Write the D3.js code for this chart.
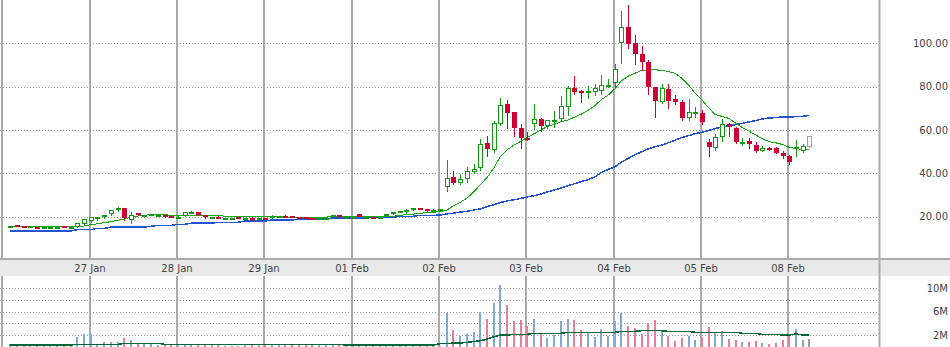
<!DOCTYPE html>
<html>
<head>
<meta charset="utf-8">
<script src="https://cdn.jsdelivr.net/npm/d3@7"></script>
<style>
  body { margin: 0; background: #fff; }
  svg { display: block; font-family: "DejaVu Sans", sans-serif; font-size: 10px; }
</style>
</head>
<body>
<svg id="chart"></svg>
<script>
// Trading days shown and how many 30-minute bars each one has
const days = ["26 Jan", "27 Jan", "28 Jan", "29 Jan", "01 Feb", "02 Feb", "03 Feb", "04 Feb", "05 Feb", "08 Feb"];
const barsPerDay = [12, 13, 13, 13, 13, 13, 13, 13, 13, 4];
const sessionBars = 13;

// OHLC per bar
const open = [
  15.5,15.9,15.8,15.4,15.1,14.9,15.0,15.2,15.4,15.1,
  15.3,16.4,18.1,19.6,19.6,21.0,23.0,24.1,18.4,21.5,
  20.6,20.7,20.9,20.8,20.3,19.9,20.4,22.0,22.1,20.6,
  19.6,20.0,19.0,19.1,19.7,19.2,19.5,18.8,19.3,19.4,
  19.9,20.4,20.1,19.8,19.6,19.5,19.1,19.5,19.6,20.5,
  19.6,19.3,21.0,19.4,19.6,19.9,20.3,21.0,22.3,21.9,
  22.9,24.0,23.5,22.9,22.6,33.5,38.4,35.3,37.2,40.4,
  42.3,53.9,50.6,62.6,71.8,68.1,61.0,56.4,62.6,65.0,
  61.8,64.4,64.9,70.7,79.4,78.1,77.9,77.6,78.1,80.6,
  81.5,100.3,107.4,100.0,94.9,91.2,79.7,73.0,78.8,74.1,
  72.7,65.4,67.9,67.7,54.5,51.8,56.6,62.7,60.7,54.3,
  54.9,53.0,50.3,51.6,51.8,49.5,47.9,51.5,50.4,52.2
];
const high = [
  15.7,15.9,15.8,15.5,15.2,15.1,15.2,15.3,15.5,15.3,
  17.0,19.0,20.0,19.9,20.6,23.0,24.3,24.1,21.9,21.6,
  20.8,21.2,21.0,20.9,20.4,20.1,22.1,22.4,22.2,20.6,
  20.0,20.1,19.5,19.5,19.8,19.5,19.6,19.4,19.4,20.5,
  20.3,20.5,20.2,19.9,19.7,19.5,19.5,19.6,20.7,20.6,
  20.2,20.1,21.3,20.0,19.6,20.3,21.3,22.3,22.6,23.3,
  24.1,24.1,23.6,23.3,23.4,46.0,41.0,39.5,43.0,44.2,
  55.6,57.0,64.2,74.6,73.8,68.2,62.6,59.2,72.0,65.6,
  64.8,68.7,75.7,80.3,84.9,78.3,80.3,81.2,85.4,83.5,
  90.3,114.9,117.7,103.8,98.8,92.3,80.0,81.2,81.2,76.1,
  73.8,74.3,70.4,69.2,55.6,58.1,64.9,63.0,61.2,56.1,
  56.4,54.3,52.6,52.2,52.2,50.4,48.2,55.3,53.3,57.2
];
const low = [
  15.3,15.6,15.6,15.3,14.5,14.6,15.0,15.2,15.2,15.0,
  15.3,16.3,17.6,18.6,19.5,20.9,22.5,18.4,17.1,20.5,
  20.4,20.6,20.5,19.9,19.7,19.2,20.3,21.9,20.6,19.5,
  19.5,19.3,19.0,19.0,19.3,19.2,18.3,18.6,18.8,19.4,
  19.8,20.0,19.7,19.2,19.4,19.1,19.1,19.4,19.6,19.9,
  19.5,19.2,19.8,19.3,19.2,19.8,20.2,21.0,22.1,21.8,
  22.9,23.3,22.6,22.8,22.5,31.9,34.9,35.2,36.1,40.3,
  41.3,47.9,49.9,62.4,61.0,57.3,51.5,55.3,60.3,59.5,
  60.7,61.5,64.8,66.9,76.4,73.0,74.6,76.1,76.4,79.9,
  80.0,91.0,97.7,90.3,87.7,76.4,66.1,72.3,70.3,72.0,
  64.6,64.6,66.1,62.7,48.1,50.7,55.0,57.2,53.8,53.0,
  51.8,49.7,50.3,50.7,49.2,47.2,44.2,48.1,49.9,52.2
];
const close = [
  15.5,15.7,15.6,15.4,14.8,15.0,15.2,15.3,15.3,15.3,
  16.9,18.7,19.9,19.8,20.5,23.0,23.8,19.2,20.8,20.6,
  20.7,21.1,20.9,20.5,19.9,19.9,21.9,22.2,20.7,20.4,
  19.9,19.4,19.5,19.4,19.4,19.5,19.3,19.2,18.9,20.4,
  20.1,20.1,19.8,19.7,19.5,19.2,19.5,19.5,20.6,20.0,
  20.1,20.0,19.8,19.9,19.3,20.0,21.2,22.2,22.4,23.2,
  24.0,23.6,23.3,23.0,23.3,37.6,35.6,37.2,41.0,41.9,
  53.3,51.3,63.0,71.5,67.9,61.0,56.4,55.7,64.9,61.8,
  64.6,64.6,71.0,79.3,77.5,77.9,78.0,79.2,80.7,80.8,
  88.0,107.4,99.5,94.9,91.5,80.0,73.5,79.2,73.5,73.0,
  65.6,68.1,68.1,63.8,52.2,56.6,62.7,61.2,54.3,54.5,
  53.5,50.4,51.5,51.5,49.5,48.1,45.3,52.0,52.6,57.2
];

// Volume per bar, millions
const volume = [
  0.45,0.3,0.3,0.3,0.45,0.27,0.27,0.27,0.27,0.3,
  1.7,2.1,2.2,0.45,0.86,0.86,0.74,1.55,1.14,0.57,
  0.4,0.4,0.3,0.4,0.4,0.4,0.4,0.3,0.4,0.4,
  0.4,0.4,0.2,0.2,0.2,0.4,0.4,0.4,0.4,0.4,
  0.4,0.4,0.4,0.4,0.4,0.4,0.4,0.4,0.4,0.4,
  0.3,0.2,0.4,0.2,0.2,0.2,0.3,0.4,0.3,0.3,
  0.4,0.2,0.2,0.2,0.2,5.7,2.86,1.83,2.1,2.46,
  6.0,4.75,7.44,10.6,7.15,4.4,4.58,3.6,4.75,2.23,
  1.55,2.0,4.4,4.75,4.58,2.86,2.46,1.71,3.03,1.83,
  4.4,5.7,3.6,3.26,2.17,3.98,4.5,2.69,1.83,0.98,
  1.43,1.83,1.08,1.65,3.37,2.4,2.69,1.31,1.14,0.74,
  0.8,0.98,0.57,0.4,0.57,1.14,2.17,3.03,1.14,1.31
];

// Moving averages as plotted
const maFast = [
  15.3,15.3,15.3,15.3,15.3,15.3,15.3,15.3,15.3,15.3,
  15.6,15.6,16.2,16.6,17.2,17.6,18.3,18.8,19.6,20.2,
  20.6,20.8,20.8,20.8,20.6,20.5,20.5,20.6,20.6,20.5,
  20.4,20.3,20.2,20.1,20.0,20.0,19.9,19.9,19.9,19.9,
  19.8,19.8,19.7,19.7,19.7,19.7,19.7,19.7,20.0,20.0,
  20.0,20.0,20.0,20.0,20.1,20.1,20.1,20.1,20.6,20.8,
  21.1,21.5,21.8,22.0,22.2,23.0,24.8,26.5,28.5,31.5,
  34.5,38.0,42.5,47.5,50.8,53.0,54.8,56.5,58.2,60.0,
  61.5,62.5,63.8,64.6,65.8,67.2,69.0,71.2,73.9,76.0,
  79.0,82.5,84.8,86.2,87.5,87.7,87.7,87.6,87.0,86.2,
  83.8,80.5,77.0,73.8,70.0,67.2,66.2,65.3,63.0,61.2,
  59.4,57.6,56.0,54.6,54.0,53.2,52.0,51.3,51.0,51.1
];
const maSlow = [
  13.3,13.3,13.3,13.3,13.3,13.3,13.3,13.3,13.3,13.3,
  13.9,13.9,13.9,14.5,14.5,15.1,15.1,15.1,15.1,15.1,
  15.1,15.5,15.9,15.9,15.9,16.4,16.4,16.9,16.9,16.9,
  16.9,17.3,17.3,17.3,17.3,17.9,17.9,17.9,17.9,18.4,
  18.4,18.4,18.4,18.8,18.8,18.8,18.8,18.8,19.3,19.3,
  19.3,19.3,19.3,19.3,19.6,19.6,19.6,19.6,20.1,20.1,
  20.1,20.5,20.5,20.5,20.7,21.2,21.5,22.0,22.4,23.0,
  23.5,24.5,25.5,26.4,27.2,27.7,28.4,29.0,29.6,30.4,
  31.3,32.2,33.1,34.2,35.1,36.1,37.0,38.3,40.2,41.7,
  43.0,45.0,46.8,48.5,50.0,51.2,52.2,53.0,54.0,55.2,
  56.5,57.4,58.2,58.9,59.8,60.6,61.3,61.9,62.5,63.0,
  63.7,64.3,65.0,65.5,65.7,66.0,66.0,66.1,66.3,66.7
];
const volMa = [
  0.29,0.29,0.29,0.29,0.29,0.29,0.29,0.29,0.29,0.29,
  0.4,0.4,0.4,0.4,0.4,0.4,0.4,0.57,0.57,0.57,
  0.57,0.57,0.57,0.4,0.4,0.4,0.4,0.4,0.4,0.4,
  0.4,0.4,0.4,0.4,0.4,0.4,0.4,0.4,0.4,0.4,
  0.4,0.4,0.4,0.4,0.4,0.4,0.4,0.4,0.4,0.4,
  0.27,0.27,0.27,0.27,0.27,0.27,0.27,0.27,0.27,0.27,
  0.27,0.27,0.27,0.27,0.5,0.57,0.6,0.62,0.74,0.9,
  1.0,1.3,1.7,2.0,2.0,2.1,2.1,2.1,2.3,2.3,
  2.3,2.3,2.3,2.46,2.46,2.46,2.46,2.46,2.46,2.46,
  2.46,2.63,2.63,2.63,2.74,2.74,2.74,2.74,2.63,2.63,
  2.63,2.63,2.46,2.46,2.46,2.46,2.46,2.46,2.46,2.29,
  2.29,2.29,2.11,2.11,2.11,2.0,2.0,2.17,2.0,2.0
];

const priceTicks = [20, 40, 60, 80, 100];
const volGrid = [2, 4, 6, 8, 10];
const volTicks = [2, 6, 10];

// Layout
const width = 950, height = 347;
const plotRight = 880;
const priceBottom = 259, bandBottom = 276, volBottom = 347;

const svg = d3.select("#chart")
  .attr("width", width)
  .attr("height", height);

svg.append("rect").attr("width", width).attr("height", height).attr("fill", "#fff");

// One slot per bar: an empty slot in front, room on the right for the rest of the week
const x = d3.scaleBand()
  .domain(d3.range(-1, 130))
  .range([0, plotRight]);
const cx = i => Math.round(x(i) + x.bandwidth() / 2);

const y = d3.scaleLinear().domain([0, 100]).range([259.8, 43.3]);
const yv = d3.scaleLinear().domain([0, 10]).range([346.7, 288.3]);

// First slot of every session (the first day opened before the window)
const dayStart = [];
let acc = 0;
barsPerDay.forEach((n, k) => {
  dayStart.push(k === 0 ? n - sessionBars : acc);
  acc += n;
});

const bars = d3.range(open.length).map(i => ({
  i, o: open[i], h: high[i], l: low[i], c: close[i], v: volume[i],
  up: close[i] >= open[i], last: i === open.length - 1
}));

const colorOf = d => d.last ? "#a0a0a0" : (d.up ? "#119a11" : "#cc0033");
const volColorOf = d => d.last ? "#a0a0a0" : (d.up ? "#7fa9d6" : "#e77f9b");

// Horizontal dotted grid, price panel
svg.append("g")
  .selectAll("line")
  .data(priceTicks)
  .enter().append("line")
  .attr("x1", 0).attr("x2", plotRight)
  .attr("y1", d => Math.round(y(d)) + 0.5)
  .attr("y2", d => Math.round(y(d)) + 0.5)
  .attr("stroke", "#999")
  .attr("stroke-dasharray", "1,2");

// Horizontal dotted grid, volume panel
svg.append("g")
  .selectAll("line")
  .data(volGrid)
  .enter().append("line")
  .attr("x1", 0).attr("x2", plotRight)
  .attr("y1", d => Math.round(yv(d)) + 0.5)
  .attr("y2", d => Math.round(yv(d)) + 0.5)
  .attr("stroke", "#999")
  .attr("stroke-dasharray", "1,2");

// Vertical session lines in both panels
const dayX = k => cx(dayStart[k]) - 1;
[[0, priceBottom], [bandBottom, volBottom]].forEach(([y1, y2]) => {
  svg.append("g")
    .selectAll("line")
    .data(days)
    .enter().append("line")
    .attr("x1", (d, k) => dayX(k)).attr("x2", (d, k) => dayX(k))
    .attr("y1", y1).attr("y2", y2)
    .attr("stroke", "#aaa")
    .attr("stroke-width", 2);
});

// Date band
svg.append("rect")
  .attr("x", 0).attr("y", priceBottom)
  .attr("width", width).attr("height", bandBottom - priceBottom)
  .attr("fill", "#e9e9e9");
svg.append("line")
  .attr("x1", 0).attr("x2", width)
  .attr("y1", priceBottom).attr("y2", priceBottom)
  .attr("stroke", "#aaa")
  .attr("stroke-width", 2);

svg.append("g")
  .selectAll("text")
  .data(days)
  .enter().append("text")
  .filter((d, k) => dayX(k) > 30)
  .attr("x", d => dayX(days.indexOf(d)))
  .attr("y", 268)
  .attr("dy", "0.35em")
  .attr("text-anchor", "middle")
  .attr("fill", "#444")
  .text(d => d);

// Right separator
svg.append("line")
  .attr("x1", plotRight - 0.5).attr("x2", plotRight - 0.5)
  .attr("y1", 0).attr("y2", height)
  .attr("stroke", "#aaa")
  .attr("stroke-width", 2);

// Price axis labels
const priceAxis = svg.append("g")
  .attr("transform", `translate(${948},0)`)
  .call(d3.axisRight(y).tickValues(priceTicks).tickFormat(d3.format(".2f")).tickSize(0).tickPadding(0));
priceAxis.select(".domain").remove();
priceAxis.selectAll("text")
  .attr("text-anchor", "end")
  .attr("fill", "#444")
  .style("font-family", "DejaVu Sans")
  .style("font-size", "10px");

// Volume axis labels
const volAxis = svg.append("g")
  .attr("transform", `translate(${948},0)`)
  .call(d3.axisRight(yv).tickValues(volTicks).tickFormat(d => d + "M").tickSize(0).tickPadding(0));
volAxis.select(".domain").remove();
volAxis.selectAll("text")
  .attr("text-anchor", "end")
  .attr("fill", "#444")
  .style("font-family", "DejaVu Sans")
  .style("font-size", "10px");

// Volume bars
svg.append("g")
  .selectAll("rect")
  .data(bars)
  .enter().append("rect")
  .attr("x", d => cx(d.i) - 1)
  .attr("width", 2)
  .attr("y", d => Math.round(yv(d.v)))
  .attr("height", d => volBottom - Math.round(yv(d.v)))
  .attr("fill", volColorOf);

// Volume average
svg.append("path")
  .datum(volMa)
  .attr("fill", "none")
  .attr("stroke", "#006633")
  .attr("stroke-width", 1.5)
  .attr("shape-rendering", "crispEdges")
  .attr("d", d3.line().x((d, i) => cx(i)).y(d => yv(d)));

// Moving averages on price
svg.append("path")
  .datum(maSlow)
  .attr("fill", "none")
  .attr("stroke", "#2255cc")
  .attr("stroke-width", 1.5)
  .attr("shape-rendering", "crispEdges")
  .attr("d", d3.line().x((d, i) => cx(i)).y(d => y(d)));

svg.append("path")
  .datum(maFast)
  .attr("fill", "none")
  .attr("stroke", "#11aa11")
  .attr("stroke-width", 1)
  .attr("shape-rendering", "crispEdges")
  .attr("d", d3.line().x((d, i) => cx(i)).y(d => y(d)));

// Candles
const candle = svg.append("g")
  .selectAll("g")
  .data(bars)
  .enter().append("g");

candle.append("line")
  .attr("x1", d => cx(d.i) + 0.5).attr("x2", d => cx(d.i) + 0.5)
  .attr("y1", d => Math.round(y(d.h)))
  .attr("y2", d => Math.round(y(d.l)) + 1)
  .attr("stroke", colorOf)
  .attr("shape-rendering", "crispEdges");

candle.each(function(d) {
  const g = d3.select(this);
  const top = Math.round(y(Math.max(d.o, d.c)));
  const bot = Math.round(y(Math.min(d.o, d.c)));
  const c = cx(d.i);
  if (bot - top < 2) {
    // doji: flat tick
    g.append("rect")
      .attr("x", c - 2).attr("width", 5)
      .attr("y", top).attr("height", 2)
      .attr("fill", colorOf(d));
  } else if (d.up || d.last) {
    g.append("rect")
      .attr("x", c - 1.5).attr("width", 4)
      .attr("y", top + 0.5).attr("height", bot - top - 1)
      .attr("fill", "#fff")
      .attr("stroke", colorOf(d))
      .attr("shape-rendering", "crispEdges");
  } else {
    g.append("rect")
      .attr("x", c - 2).attr("width", 5)
      .attr("y", top).attr("height", bot - top)
      .attr("fill", colorOf(d));
  }
});
</script>
</body>
</html>
